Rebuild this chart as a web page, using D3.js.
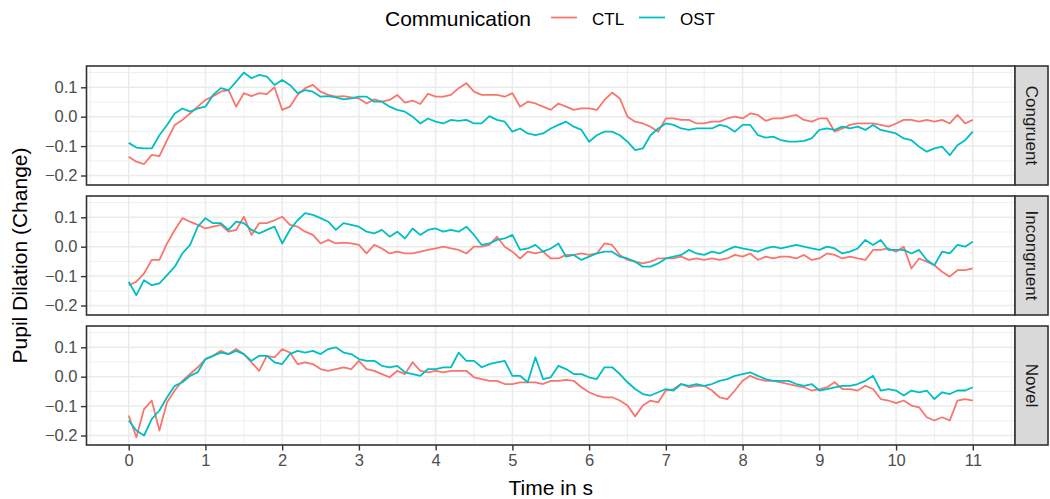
<!DOCTYPE html>
<html>
<head>
<meta charset="utf-8">
<script src="https://cdn.jsdelivr.net/npm/d3@7"></script>
<style>
  body { margin: 0; background: #fff; }
  svg { display: block; font-family: "Liberation Sans", Arial, Helvetica, sans-serif; }
</style>
</head>
<body>
<svg id="chart" width="1050" height="499"></svg>
<script>
// ---- data -------------------------------------------------------------
const conditions = ["Congruent", "Incongruent", "Novel"];
const groups = ["CTL", "OST"];
const groupColors = ["#F8766D", "#00BFC4"];
const sampleStep = 0.1;            // seconds between samples
const xTicks = [0, 1, 2, 3, 4, 5, 6, 7, 8, 9, 10, 11];
const yTicks = [-0.2, -0.1, 0.0, 0.1];
const yMinorTicks = [-0.15, -0.05, 0.05, 0.15];

const congruentCTL = [
  -0.136, -0.153, -0.161, -0.130, -0.134, -0.080, -0.028, -0.011, 0.011, 0.034,
  0.057, 0.070, 0.085, 0.090, 0.034, 0.080, 0.070, 0.080, 0.077, 0.100,
  0.023, 0.034, 0.074, 0.097, 0.108, 0.085, 0.074, 0.068, 0.070, 0.066,
  0.062, 0.045, 0.059, 0.051, 0.057, 0.074, 0.048, 0.055, 0.043, 0.078,
  0.068, 0.068, 0.074, 0.097, 0.114, 0.085, 0.074, 0.074, 0.074, 0.068,
  0.080, 0.034, 0.051, 0.045, 0.034, 0.023, 0.045, 0.034, 0.023, 0.028,
  0.028, 0.023, 0.057, 0.082, 0.062, 0.000, -0.017, -0.023, -0.034, -0.051,
  -0.006, -0.006, -0.011, -0.011, -0.023, -0.023, -0.017, -0.017, -0.006, 0.000,
  -0.006, 0.011, 0.006, -0.014, -0.006, -0.006, 0.000, 0.006, -0.011, -0.017,
  -0.006, -0.006, -0.051, -0.040, -0.028, -0.023, -0.023, -0.023, -0.028, -0.034,
  -0.023, -0.011, -0.011, -0.017, -0.011, -0.017, -0.011, -0.023, 0.006, -0.023, -0.011
];
const congruentOST = [
  -0.089, -0.105, -0.108, -0.108, -0.063, -0.028, 0.011, 0.028, 0.017, 0.028,
  0.034, 0.074, 0.097, 0.090, 0.119, 0.150, 0.131, 0.142, 0.136, 0.108,
  0.125, 0.108, 0.080, 0.090, 0.085, 0.068, 0.070, 0.066, 0.059, 0.062,
  0.068, 0.068, 0.051, 0.051, 0.034, 0.023, 0.017, 0.000, -0.023, -0.006,
  -0.017, -0.023, -0.011, -0.014, -0.011, -0.023, -0.023, 0.002, -0.011, -0.017,
  -0.051, -0.040, -0.057, -0.063, -0.057, -0.040, -0.028, -0.017, -0.034, -0.045,
  -0.085, -0.063, -0.051, -0.051, -0.063, -0.085, -0.114, -0.108, -0.063, -0.040,
  -0.023, -0.028, -0.040, -0.045, -0.040, -0.040, -0.040, -0.028, -0.034, -0.051,
  -0.028, -0.028, -0.063, -0.071, -0.068, -0.080, -0.085, -0.085, -0.082, -0.074,
  -0.045, -0.040, -0.045, -0.034, -0.040, -0.034, -0.045, -0.028, -0.045, -0.051,
  -0.057, -0.074, -0.080, -0.102, -0.119, -0.108, -0.102, -0.131, -0.097, -0.080, -0.051
];
const incongruentCTL = [
  -0.131, -0.119, -0.091, -0.045, -0.045, 0.011, 0.057, 0.097, 0.085, 0.074,
  0.062, 0.068, 0.074, 0.051, 0.057, 0.102, 0.040, 0.080, 0.080, 0.090,
  0.102, 0.074, 0.068, 0.051, 0.040, 0.011, 0.023, 0.011, 0.014, 0.011,
  0.006, -0.023, 0.006, -0.006, -0.023, -0.017, -0.023, -0.023, -0.017, -0.011,
  -0.006, 0.000, -0.006, -0.011, -0.023, 0.000, 0.000, 0.006, 0.034, 0.000,
  -0.017, -0.040, -0.017, -0.023, -0.017, -0.040, -0.040, -0.028, -0.028, -0.023,
  -0.028, -0.023, 0.011, 0.006, -0.028, -0.045, -0.051, -0.057, -0.051, -0.040,
  -0.040, -0.040, -0.034, -0.045, -0.040, -0.045, -0.040, -0.045, -0.040, -0.028,
  -0.034, -0.023, -0.045, -0.034, -0.040, -0.034, -0.034, -0.040, -0.028, -0.045,
  -0.040, -0.023, -0.028, -0.040, -0.034, -0.040, -0.045, -0.011, -0.011, -0.006,
  -0.017, 0.000, -0.074, -0.040, -0.051, -0.063, -0.085, -0.102, -0.080, -0.080, -0.074
];
const incongruentOST = [
  -0.119, -0.165, -0.114, -0.131, -0.125, -0.097, -0.068, -0.023, 0.006, 0.068,
  0.097, 0.080, 0.080, 0.057, 0.085, 0.080, 0.057, 0.045, 0.057, 0.068,
  0.011, 0.057, 0.090, 0.114, 0.108, 0.097, 0.085, 0.057, 0.080, 0.074,
  0.068, 0.051, 0.045, 0.057, 0.034, 0.051, 0.028, 0.062, 0.040, 0.057,
  0.062, 0.051, 0.057, 0.051, 0.068, 0.040, 0.006, 0.011, 0.023, 0.028,
  0.040, -0.011, -0.006, 0.006, -0.017, -0.006, 0.011, -0.034, -0.028, -0.045,
  -0.034, -0.023, -0.017, -0.017, -0.034, -0.040, -0.051, -0.068, -0.068, -0.057,
  -0.040, -0.034, -0.028, -0.011, -0.023, -0.028, -0.017, -0.023, -0.011, 0.000,
  -0.006, -0.011, -0.017, -0.006, 0.000, -0.006, 0.000, 0.006, 0.000, -0.006,
  -0.011, 0.000, -0.006, -0.023, -0.017, -0.006, 0.023, 0.006, 0.023, -0.011,
  -0.011, -0.011, -0.023, -0.011, -0.045, -0.063, -0.017, -0.023, 0.006, 0.000, 0.017
];
const novelCTL = [
  -0.132, -0.206, -0.110, -0.081, -0.183, -0.087, -0.047, -0.014, 0.009, 0.032,
  0.060, 0.071, 0.088, 0.077, 0.094, 0.077, 0.049, 0.020, 0.071, 0.066,
  0.094, 0.082, 0.043, 0.049, 0.043, 0.026, 0.020, 0.026, 0.032, 0.026,
  0.054, 0.026, 0.020, 0.009, -0.002, 0.020, 0.009, 0.049, 0.020, 0.015,
  0.020, 0.015, 0.020, 0.020, 0.020, -0.002, -0.008, -0.014, -0.014, -0.025,
  -0.025, -0.019, -0.019, -0.019, -0.025, -0.014, -0.014, -0.011, -0.014, -0.036,
  -0.053, -0.064, -0.070, -0.070, -0.081, -0.098, -0.135, -0.098, -0.081, -0.087,
  -0.047, -0.042, -0.025, -0.036, -0.031, -0.031, -0.047, -0.070, -0.076, -0.047,
  -0.014, 0.003, -0.008, -0.014, -0.014, -0.019, -0.025, -0.031, -0.036, -0.047,
  -0.042, -0.036, -0.019, -0.042, -0.042, -0.047, -0.031, -0.042, -0.076, -0.081,
  -0.090, -0.081, -0.098, -0.104, -0.138, -0.149, -0.138, -0.149, -0.081, -0.076, -0.081
];
const novelOST = [
  -0.149, -0.183, -0.200, -0.144, -0.115, -0.070, -0.031, -0.019, 0.003, 0.015,
  0.060, 0.071, 0.082, 0.077, 0.088, 0.077, 0.054, 0.071, 0.071, 0.049,
  0.043, 0.077, 0.088, 0.082, 0.088, 0.077, 0.094, 0.100, 0.082, 0.077,
  0.060, 0.054, 0.054, 0.037, 0.032, 0.037, 0.015, 0.009, 0.003, 0.026,
  0.026, 0.032, 0.032, 0.082, 0.054, 0.054, 0.032, 0.043, 0.049, 0.054,
  0.003, 0.003, -0.019, 0.066, -0.008, -0.002, 0.037, 0.026, 0.009, 0.009,
  -0.002, -0.008, 0.032, 0.032, 0.009, -0.019, -0.042, -0.059, -0.064, -0.053,
  -0.042, -0.047, -0.025, -0.031, -0.025, -0.031, -0.025, -0.014, -0.008, 0.003,
  0.009, 0.015, 0.003, -0.008, -0.014, -0.014, -0.014, -0.025, -0.031, -0.025,
  -0.047, -0.042, -0.036, -0.031, -0.031, -0.025, -0.014, 0.003, -0.047, -0.042,
  -0.047, -0.064, -0.047, -0.053, -0.047, -0.076, -0.053, -0.059, -0.047, -0.047, -0.036
];

const seriesByCondition = {
  Congruent:   [congruentCTL, congruentOST],
  Incongruent: [incongruentCTL, incongruentOST],
  Novel:       [novelCTL, novelOST]
};

// ---- layout -----------------------------------------------------------
const svg = d3.select("#chart");
const panelLeft = 86.5, panelRight = 1015;
const panelTop0 = 66, panelH = 119, panelGap = 11;
const stripW = 33;
const axisTextColor = "#4D4D4D";
const fs = { tick: 16.5, title: 21, strip: 17 };

const x = d3.scaleLinear().domain([-0.55, 11.55]).range([panelLeft, panelRight]);
const y = d3.scaleLinear().domain([-0.2323, 0.1724]).range([panelH, 0]);
const xMinor = d3.range(-0.5, 11.6, 1);

const minus = s => s.replace("-", "\u2212");
const line = d3.line()
  .x((d, i) => x(i * sampleStep))
  .y(d => y(d));

conditions.forEach((cond, pi) => {
  const top = panelTop0 + pi * (panelH + panelGap);
  const g = svg.append("g").attr("transform", `translate(0,${top})`);

  // panel background + grid
  g.append("rect").attr("x", panelLeft).attr("y", 0)
    .attr("width", panelRight - panelLeft).attr("height", panelH).attr("fill", "#fff");

  const grid = g.append("g").attr("stroke", "#EBEBEB").attr("fill", "none");
  grid.selectAll(".ymin").data(yMinorTicks).join("line")
    .attr("x1", panelLeft).attr("x2", panelRight)
    .attr("y1", d => y(d)).attr("y2", d => y(d)).attr("stroke-width", 0.8);
  grid.selectAll(".xmin").data(xMinor).join("line")
    .attr("y1", 0).attr("y2", panelH)
    .attr("x1", d => x(d)).attr("x2", d => x(d)).attr("stroke-width", 0.8);
  grid.selectAll(".ymaj").data(yTicks).join("line")
    .attr("x1", panelLeft).attr("x2", panelRight)
    .attr("y1", d => y(d)).attr("y2", d => y(d)).attr("stroke-width", 1.5);
  grid.selectAll(".xmaj").data(xTicks).join("line")
    .attr("y1", 0).attr("y2", panelH)
    .attr("x1", d => x(d)).attr("x2", d => x(d)).attr("stroke-width", 1.5);

  // series lines (CTL first, OST on top)
  const clipId = "clip" + pi;
  g.append("clipPath").attr("id", clipId).append("rect")
    .attr("x", panelLeft).attr("y", 0).attr("width", panelRight - panelLeft).attr("height", panelH);
  seriesByCondition[cond].forEach((vals, si) => {
    g.append("path").datum(vals)
      .attr("clip-path", `url(#${clipId})`)
      .attr("fill", "none")
      .attr("stroke", groupColors[si])
      .attr("stroke-width", 1.8)
      .attr("stroke-linejoin", "round")
      .attr("d", line);
  });

  // panel border
  g.append("rect").attr("x", panelLeft).attr("y", 0)
    .attr("width", panelRight - panelLeft).attr("height", panelH)
    .attr("fill", "none").attr("stroke", "#333333").attr("stroke-width", 1.6);

  // strip on the right
  g.append("rect").attr("x", panelRight).attr("y", 0)
    .attr("width", stripW).attr("height", panelH)
    .attr("fill", "#D9D9D9").attr("stroke", "#333333").attr("stroke-width", 1.6);
  g.append("text")
    .attr("transform", `translate(${panelRight + stripW / 2},${panelH / 2}) rotate(90)`)
    .attr("text-anchor", "middle").attr("dominant-baseline", "central")
    .attr("font-size", fs.strip).attr("fill", "#1A1A1A")
    .text(cond);

  // y axis
  const yAxis = g.append("g").attr("transform", `translate(${panelLeft},0)`)
    .call(d3.axisLeft(y).tickValues(yTicks).tickSize(5.5).tickPadding(3.5)
      .tickFormat(d => minus(d3.format(".1f")(d))));
  yAxis.select(".domain").remove();
  yAxis.selectAll(".tick line").attr("stroke", "#333333").attr("stroke-width", 1.4);
  yAxis.selectAll(".tick text").attr("fill", axisTextColor)
    .attr("font-size", fs.tick).attr("font-family", null);

  // x axis on the bottom panel only
  if (pi === conditions.length - 1) {
    const xAxis = g.append("g").attr("transform", `translate(0,${panelH})`)
      .call(d3.axisBottom(x).tickValues(xTicks).tickSize(5.5).tickPadding(4)
        .tickFormat(d3.format("d")));
    xAxis.select(".domain").remove();
    xAxis.selectAll(".tick line").attr("stroke", "#333333").attr("stroke-width", 1.4);
    xAxis.selectAll(".tick text").attr("fill", axisTextColor)
      .attr("font-size", fs.tick).attr("font-family", null);
  }
});

// axis titles
const panelsBottom = panelTop0 + conditions.length * panelH + (conditions.length - 1) * panelGap;
svg.append("text")
  .attr("x", (panelLeft + panelRight) / 2).attr("y", 495)
  .attr("text-anchor", "middle").attr("font-size", fs.title).attr("fill", "#000")
  .text("Time in s");
svg.append("text")
  .attr("transform", `translate(27,${(panelTop0 + panelsBottom) / 2}) rotate(-90)`)
  .attr("text-anchor", "middle").attr("font-size", fs.title).attr("fill", "#000")
  .text("Pupil Dilation (Change)");

// legend
const legend = svg.append("g");
legend.append("text").attr("x", 385).attr("y", 26)
  .attr("font-size", fs.title).attr("fill", "#000").text("Communication");
const keyX = [551, 639];
groups.forEach((grp, i) => {
  legend.append("line")
    .attr("x1", keyX[i]).attr("x2", keyX[i] + 26)
    .attr("y1", 17.5).attr("y2", 17.5)
    .attr("stroke", groupColors[i]).attr("stroke-width", 1.8);
  legend.append("text").attr("x", keyX[i] + 41).attr("y", 24.5)
    .attr("font-size", fs.strip).attr("fill", "#000").text(grp);
});
</script>
</body>
</html>
